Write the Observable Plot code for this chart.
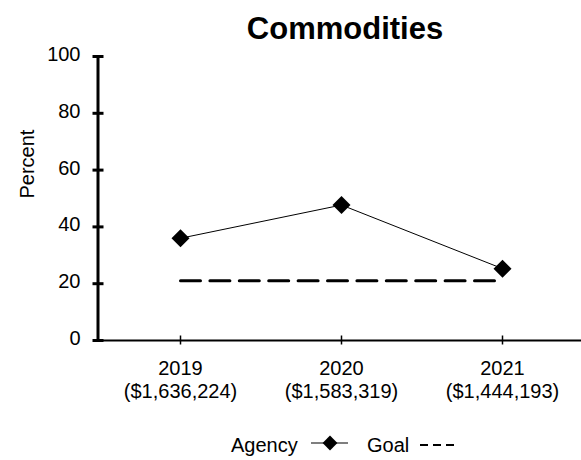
<!DOCTYPE html>
<html>
<head>
<meta charset="utf-8">
<script src="https://cdn.jsdelivr.net/npm/d3@7"></script>
<script src="https://cdn.jsdelivr.net/npm/@observablehq/plot@0.6"></script>
<style>
  html, body { margin: 0; padding: 0; background: #fff; }
  #wrap { width: 581px; height: 460px; position: relative; font-family: "Liberation Sans", Arial, sans-serif; color: #000; }
  #title { height: 44px; line-height: 58px; font-size: 31px; font-weight: bold; text-align: center; padding-left: 109px; box-sizing: border-box; width: 581px; white-space: nowrap; }
  #chart { height: 376px; }
  #legend { height: 40px; position: relative; font-size: 20px; line-height: 50px; }
  #legend span { position: absolute; top: 0; }
  #legend svg { position: absolute; }
</style>
</head>
<body>
<div id="wrap">
  <div id="title">Commodities</div>
  <div id="chart"></div>
  <div id="legend"></div>
</div>
<script>
const years = ["2019", "2020", "2021"];
const amounts = ["($1,636,224)", "($1,583,319)", "($1,444,193)"];
const agency = [36, 47.7, 25.3];
const goal = [21, 21, 21];
const yTicks = [0, 20, 40, 60, 80, 100];

const agencyData = years.map((y, i) => ({year: y, value: agency[i]}));
const goalData = years.map((y, i) => ({year: y, value: goal[i]}));

const yAxisLine = (index, scales, values, dims) => {
  const g = d3.create("svg:g");
  g.append("line")
    .attr("x1", dims.marginLeft).attr("x2", dims.marginLeft)
    .attr("y1", dims.marginTop - 1)
    .attr("y2", dims.height - dims.marginBottom + 2)
    .attr("stroke", "black").attr("stroke-width", 3);
  return g.node();
};

const chart = Plot.plot({
  width: 581,
  height: 376,
  marginTop: 12,
  marginBottom: 80,
  marginLeft: 98,
  marginRight: 0,
  style: {fontFamily: "'Liberation Sans', Arial, sans-serif", fontSize: "20px", color: "black", background: "white", overflow: "visible"},
  x: {type: "point", domain: years, padding: 0.5, range: [99, 583.5]},
  y: {domain: [0, 100]},
  marks: [
    Plot.ruleY([0], {strokeWidth: 2}),
    yAxisLine,
    Plot.axisY({ticks: yTicks, tickSize: 11, dx: 5.5, strokeWidth: 3, fill: "none", label: null}),
    Plot.axisY({ticks: yTicks, tickSize: 0, tickPadding: 18, dy: -2, stroke: "none", fontSize: 20, label: null}),
    Plot.axisX({tickSize: 9, dy: -4.5, strokeWidth: 1.5, fill: "none", label: null}),
    Plot.axisX({tickSize: 0, tickPadding: 18, stroke: "none", fontSize: 20, lineHeight: 1.15,
      tickFormat: (d) => d + "\n" + amounts[years.indexOf(d)], label: null}),
    Plot.line(goalData, {x: "year", y: "value", stroke: "black", strokeWidth: 3, strokeDasharray: "20,9.4"}),
    Plot.line(agencyData, {x: "year", y: "value", stroke: "black", strokeWidth: 1}),
    Plot.dot(agencyData, {x: "year", y: "value", symbol: "diamond2", r: 8.1, fill: "black", stroke: "none"}),
    Plot.text(["Percent"], {frameAnchor: "left", rotate: -90, dx: -71, fontSize: 20, fill: "black"})
  ]
});
document.getElementById("chart").appendChild(chart);

// Legend
const legend = document.getElementById("legend");
const legendLabels = ["Agency", "Goal"];
const s1 = document.createElement("span"); s1.textContent = legendLabels[0]; s1.style.left = "231px"; legend.appendChild(s1);
const s2 = document.createElement("span"); s2.textContent = legendLabels[1]; s2.style.left = "367px"; legend.appendChild(s2);
const sw1 = d3.create("svg").attr("width", 40).attr("height", 20).style("left", "310px").style("top", "13px");
sw1.append("line").attr("x1", 1).attr("x2", 38).attr("y1", 10).attr("y2", 10).attr("stroke", "black").attr("stroke-width", 1.2);
sw1.append("path").attr("d", d3.symbol(d3.symbolDiamond2, 140)()).attr("transform", "translate(20,10)").attr("fill", "black");
legend.appendChild(sw1.node());
const sw2 = d3.create("svg").attr("width", 40).attr("height", 20).style("left", "420px").style("top", "15px");
sw2.append("line").attr("x1", 0).attr("x2", 36).attr("y1", 10).attr("y2", 10).attr("stroke", "black").attr("stroke-width", 2).attr("stroke-dasharray", "8,5");
legend.appendChild(sw2.node());
</script>
</body>
</html>
